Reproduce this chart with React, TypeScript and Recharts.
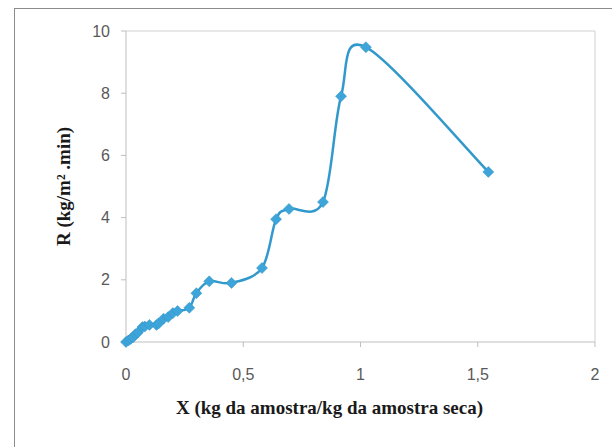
import { Label, Line, LineChart, ReferenceLine, XAxis, YAxis } from "recharts";

const moisture = [0, 0.01, 0.02, 0.03, 0.04, 0.05, 0.07, 0.08, 0.1, 0.13, 0.14, 0.16, 0.18, 0.2, 0.22, 0.27, 0.3, 0.355, 0.45, 0.58, 0.64, 0.695, 0.84, 0.917, 1.023, 1.545];
const rate = [0, 0.05, 0.1, 0.15, 0.25, 0.3, 0.48, 0.5, 0.55, 0.55, 0.6, 0.75, 0.8, 0.93, 1.0, 1.1, 1.57, 1.95, 1.9, 2.38, 3.95, 4.28, 4.5, 7.9, 9.48, 5.47];
const xTicks = [0, 0.5, 1, 1.5, 2];
const yTicks = [0, 2, 4, 6, 8, 10];

const data = moisture.map((x, i) => ({ x, r: rate[i] }));

const tickStyle = { fontSize: 16, fill: "#595959", fontFamily: "Liberation Sans, Arial, sans-serif" };
const serif = "Liberation Serif";

// excel-style smoothed line (catmull-rom through every point)
function smoothCurve(context: any) {
  let pts: number[][] = [];
  return {
    areaStart() {},
    areaEnd() {},
    lineStart() {
      pts = [];
    },
    point(x: number, y: number) {
      pts.push([x, y]);
    },
    lineEnd() {
      if (!pts.length) return;
      context.moveTo(pts[0][0], pts[0][1]);
      for (let i = 0; i < pts.length - 1; i++) {
        const p0 = pts[i - 1] || pts[i];
        const p1 = pts[i];
        const p2 = pts[i + 1];
        const p3 = pts[i + 2] || p2;
        context.bezierCurveTo(
          p1[0] + (p2[0] - p0[0]) / 6,
          p1[1] + (p2[1] - p0[1]) / 6,
          p2[0] - (p3[0] - p1[0]) / 6,
          p2[1] - (p3[1] - p1[1]) / 6,
          p2[0],
          p2[1]
        );
      }
    },
  };
}

function Diamond(props: any) {
  const { cx, cy } = props;
  if (cx == null || cy == null) return null;
  const s = 5.5;
  return (
    <polygon
      points={`${cx},${cy - s} ${cx + s},${cy} ${cx},${cy + s} ${cx - s},${cy}`}
      fill="#3DA5D9"
      stroke="#3392C4"
      strokeWidth={0.5}
    />
  );
}

export default function App() {
  return (
    <div style={{ position: "absolute", left: 0, top: 0, width: 612, height: 447, background: "#fff", overflow: "hidden" }}>
      <div
        style={{
          position: "absolute",
          left: 14,
          top: 8,
          width: 620,
          height: 460,
          border: "1.5px solid #8c8c8c",
        }}
      />
      <LineChart
        width={612}
        height={447}
        data={data}
        margin={{ top: 31, right: 17, left: 0, bottom: 0 }}
        style={{ position: "absolute", left: 0, top: 0 }}
      >
        <XAxis
          dataKey="x"
          type="number"
          domain={[0, 2]}
          ticks={xTicks}
          tickFormatter={(v: number) => String(v).replace(".", ",")}
          height={105}
          tick={tickStyle}
          tickSize={5}
          tickMargin={22}
          stroke="#bfbfbf"
        >
          <Label
            content={({ viewBox }: any) => (
              <text
                x={viewBox.x + viewBox.width / 2 - 31}
                y={viewBox.y + 72}
                textAnchor="middle"
                style={{ fontFamily: serif, fontWeight: "bold", fontSize: 19, fill: "#1a1a1a" }}
              >
                X (kg da amostra/kg da amostra seca)
              </text>
            )}
          />
        </XAxis>
        <YAxis
          domain={[0, 10]}
          ticks={yTicks}
          width={126}
          tick={tickStyle}
          tickSize={5}
          tickMargin={11}
          stroke="#bfbfbf"
        >
          <Label
            content={({ viewBox }: any) => {
              const cx = 70;
              const cy = viewBox.y + viewBox.height / 2;
              return (
                <text
                  x={cx}
                  y={cy}
                  transform={`rotate(-90 ${cx} ${cy})`}
                  textAnchor="middle"
                  style={{ fontFamily: serif, fontWeight: "bold", fontSize: 19, fill: "#1a1a1a" }}
                >
                  R (kg/m² .min)
                </text>
              );
            }}
          />
        </YAxis>
        <ReferenceLine y={10} stroke="#d0d0d0" />
        <ReferenceLine x={2} stroke="#d0d0d0" />
        <Line
          dataKey="r"
          type={smoothCurve as any}
          stroke="#3399CC"
          strokeWidth={2.5}
          dot={<Diamond />}
          activeDot={false}
          isAnimationActive={false}
        />
      </LineChart>
    </div>
  );
}
